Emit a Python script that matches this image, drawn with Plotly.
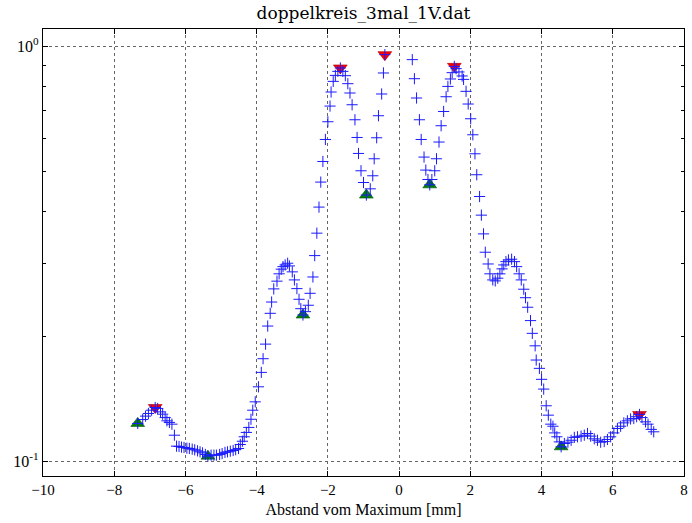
import plotly.graph_objects as go
import math

title = "doppelkreis_3mal_1V.dat"
xlabel = "Abstand vom Maximum [mm]"

# measured points (distance in mm, normalized intensity)
x_data = [-7.34, -7.20, -7.12, -7.04, -6.95, -6.85, -6.78, -6.70, -6.64, -6.57, -6.52, -6.45, -6.38,
          -6.31, -6.25, -6.18, -6.11, -6.04, -5.96, -5.89, -5.81, -5.74, -5.66, -5.59, -5.52, -5.44,
          -5.37, -5.28, -5.20, -5.13, -5.04, -4.97, -4.89, -4.82, -4.74, -4.66, -4.59, -4.51, -4.46,
          -4.40, -4.35, -4.29, -4.22, -4.16, -4.11, -4.04, -3.95, -3.87, -3.82, -3.75, -3.69, -3.62,
          -3.58, -3.52, -3.43, -3.37, -3.31, -3.26, -3.20, -3.13, -3.08, -3.00, -2.94, -2.87, -2.81,
          -2.76, -2.70, -2.63, -2.55, -2.50, -2.42, -2.37, -2.31, -2.25, -2.20, -2.14, -2.07, -2.00,
          -1.94, -1.91, -1.85, -1.79, -1.72, -1.65, -1.58, -1.51, -1.44, -1.38, -1.32, -1.24, -1.18,
          -1.14, -1.07, -1.00, -0.92, -0.81, -0.74, -0.70, -0.63, -0.58, -0.49, -0.44, -0.40,
          0.37, 0.43, 0.49, 0.57, 0.62, 0.70, 0.75, 0.81, 0.86, 0.92, 1.00, 1.05, 1.12, 1.18, 1.25,
          1.32, 1.37, 1.44, 1.49, 1.55, 1.60, 1.68, 1.77, 1.81, 1.88, 1.94, 2.01, 2.07, 2.13, 2.18,
          2.26, 2.31, 2.37, 2.42, 2.50, 2.55, 2.63, 2.70, 2.77, 2.83, 2.89, 2.94, 3.00, 3.07, 3.16,
          3.24, 3.30, 3.37, 3.43, 3.50, 3.55, 3.61, 3.69, 3.74, 3.82, 3.85, 3.94, 4.00, 4.06, 4.13,
          4.19, 4.26, 4.32, 4.37, 4.43, 4.50, 4.55, 4.64, 4.74, 4.83, 4.92, 5.01, 5.11, 5.20, 5.29,
          5.38, 5.48, 5.57, 5.66, 5.76, 5.85, 5.94, 6.03, 6.13, 6.22, 6.31, 6.41, 6.50, 6.59, 6.67,
          6.75, 6.82, 6.92, 6.99, 7.08, 7.15]
y_data = [0.1233, 0.1260, 0.1284, 0.1303, 0.1327, 0.1347, 0.1340, 0.1315, 0.1298, 0.1274, 0.1251, 0.1240, 0.1228,
          0.1155, 0.1087, 0.1085, 0.1081, 0.1079, 0.1075, 0.1073, 0.1069, 0.1065, 0.1059, 0.1053, 0.1047, 0.1038,
          0.1028, 0.1034, 0.1034, 0.1034, 0.1038, 0.1043, 0.1050, 0.1053, 0.1057, 0.1061, 0.1066, 0.1073, 0.1097,
          0.1117, 0.1145, 0.1173, 0.1206, 0.1262, 0.1327, 0.1390, 0.1511, 0.1637, 0.1766, 0.1915, 0.2117, 0.2272,
          0.2419, 0.2602, 0.2716, 0.2829, 0.2903, 0.2944, 0.2972, 0.3000, 0.2956, 0.2860, 0.2735, 0.2606, 0.2456,
          0.2331, 0.2251, 0.2293, 0.2376, 0.2539, 0.2780, 0.3130, 0.3545, 0.4097, 0.4707, 0.5278, 0.5963, 0.6580,
          0.7178, 0.7760, 0.8232, 0.8511, 0.8703, 0.8869, 0.8703, 0.8497, 0.8128, 0.7718, 0.7231, 0.6653, 0.6030,
          0.5518, 0.5012, 0.4696, 0.4380, 0.4534, 0.4875, 0.5358, 0.6020, 0.6803, 0.7676, 0.8625, 0.9550,
          0.9288, 0.8356, 0.7507, 0.6653, 0.5963, 0.5408, 0.5031, 0.4775, 0.4636, 0.4775, 0.5012, 0.5358, 0.5879, 0.6436, 0.6966,
          0.7560, 0.8006, 0.8343, 0.8640, 0.8948, 0.8836, 0.8675, 0.8483, 0.8324, 0.7790, 0.7260, 0.6690, 0.6121, 0.5508, 0.4903,
          0.4345, 0.3918, 0.3531, 0.3189, 0.2988, 0.2829, 0.2735, 0.2720, 0.2761, 0.2829, 0.2908, 0.2972, 0.3027, 0.3056, 0.3068,
          0.3027, 0.2944, 0.2829, 0.2735, 0.2597, 0.2478, 0.2350, 0.2182, 0.2033, 0.1897, 0.1753, 0.1674, 0.1575, 0.1492, 0.1360,
          0.1291, 0.1228, 0.1214, 0.1170, 0.1145, 0.1113, 0.1083, 0.1103, 0.1111, 0.1123, 0.1141, 0.1145, 0.1149, 0.1155, 0.1166,
          0.1149, 0.1132, 0.1123, 0.1111, 0.1115, 0.1128, 0.1145, 0.1170, 0.1199, 0.1214, 0.1237, 0.1251, 0.1264, 0.1267, 0.1280,
          0.1296, 0.1274, 0.1244, 0.1228, 0.1193, 0.1177]

# detected maxima (red) and minima (green)
max_x = [-6.85, -1.65, -0.40, 1.55, 6.75]
max_y = [0.1347, 0.8869, 0.9550, 0.8948, 0.1296]
min_x = [-7.34, -5.37, -2.70, -0.92, 0.86, 4.55]
min_y = [0.1233, 0.1028, 0.2251, 0.4380, 0.4636, 0.1083]

x_ticks = [-10, -8, -6, -4, -2, 0, 2, 4, 6, 8]
y_ticks = [0.1, 1.0]
y_ticktext = ["10<sup>-1</sup>", "10<sup>0</sup>"]
y_minor = [0.2, 0.3, 0.4, 0.5, 0.6, 0.7, 0.8, 0.9]

FONT = "Liberation Serif"

fig = go.Figure()
fig.add_trace(go.Scatter(x=min_x, y=min_y, mode="markers",
                         marker=dict(symbol="triangle-up", size=12, color="#008000",
                                     line=dict(color="#005500", width=0.6)),
                         showlegend=False))
fig.add_trace(go.Scatter(x=max_x, y=max_y, mode="markers",
                         marker=dict(symbol="triangle-down", size=12, color="#ff0000",
                                     line=dict(color="#b00000", width=0.6)),
                         showlegend=False))
fig.add_trace(go.Scatter(x=x_data, y=y_data, mode="markers",
                         marker=dict(symbol="cross-thin", size=8, color="#1a1aff",
                                     line=dict(color="#1a1aff", width=1)),
                         showlegend=False))

fig.update_layout(
    width=692, height=523,
    margin=dict(l=43, r=4, t=29, b=47),
    paper_bgcolor="white", plot_bgcolor="white",
    font=dict(family=FONT, size=15, color="black"),
    title=dict(text=title, xref="paper", x=0.5, xanchor="center", y=0.975, yanchor="middle",
               font=dict(family="DejaVu Serif", size=17, color="black")),
)
fig.update_xaxes(
    range=[-10, 8], tickvals=x_ticks, ticks="inside", ticklen=5, tickcolor="black",
    showline=True, linecolor="black", linewidth=1.3, mirror="ticks",
    showgrid=True, gridcolor="#666666", griddash="dot", gridwidth=1,
    zeroline=False, tickfont=dict(size=15),
    title=dict(text=xlabel, font=dict(size=16), standoff=6),
)
fig.update_yaxes(
    type="log", range=[math.log10(0.0921), math.log10(1.101)],
    tickvals=y_ticks, ticktext=y_ticktext, ticks="inside", ticklen=5, tickcolor="black",
    showline=True, linecolor="black", linewidth=1.3, mirror="ticks",
    showgrid=True, gridcolor="#666666", griddash="dot", gridwidth=1,
    zeroline=False, tickfont=dict(size=16),
    minor=dict(tickmode="array", tickvals=y_minor, ticks="inside", ticklen=3,
               tickcolor="black", showgrid=False),
)

fig.write_html("out.html")
